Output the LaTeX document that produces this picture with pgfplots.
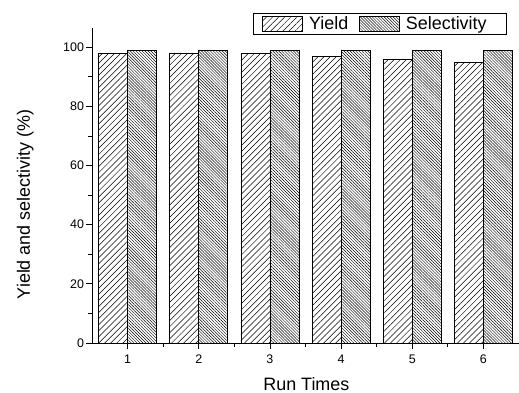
\documentclass[border=0pt]{standalone}
\usepackage{pgfplots}
\pgfplotsset{compat=1.18}
\usepackage{fontspec}
\setmainfont{Liberation Sans}
\usetikzlibrary{patterns.meta}
\begin{document}
\begin{tikzpicture}
\begin{axis}[
  scale only axis, width=427bp, height=315bp,
  ybar=0pt, bar width=29bp,
  xmin=0.5, xmax=6.5, ymin=0, ymax=106.5,
  axis x line*=bottom, axis y line*=left,
  axis line style={line width=0.7pt},
  xtick={1,2,3,4,5,6}, minor xtick={1.5,2.5,3.5,4.5,5.5},
  ytick={0,20,40,60,80,100}, minor ytick={10,30,50,70,90},
  tick align=outside, major tick length=6bp, minor tick length=3.5bp,
  tick style={black, line width=0.7pt},
  ticklabel style={font=\fontsize{12.5}{14}\selectfont},
  yticklabel style={xshift=1.5bp},
  xticklabel style={yshift=-2.5bp},
  /pgf/number format/assume math mode=true,
  xlabel={Run Times}, ylabel={Yield and selectivity (\%)},
  label style={font=\fontsize{18}{21}\selectfont},
  xlabel style={at={(axis description cs:0.502,0)}, anchor=base, yshift=-47bp},
  ylabel style={at={([xshift=-62bp]axis description cs:0,0.44)}, anchor=base},
  legend columns=2,
  legend style={at={(0.377,1.0476)}, anchor=north west, draw=black, line width=0.7pt,
    font=\fontsize{18}{21}\selectfont, inner xsep=9bp, inner ysep=2.5bp,
    nodes={inner sep=0pt, anchor=west},
    /tikz/every odd column/.style={column sep=6bp},
    /tikz/every even column/.style={column sep=11bp}},
  legend image code/.code={\draw[#1, line width=0.7pt] (0bp,-7.5bp) rectangle (40bp,7.5bp);},
]
\addplot[draw=black, line width=0.7pt, pattern={Lines[angle=45,distance=4.3bp,line width=0.5bp]}]
  coordinates {(1,98) (2,98) (3,98) (4,97) (5,96) (6,95)};
\addplot[draw=black, line width=0.7pt, pattern={Lines[angle=-45,distance=2.1bp,line width=0.45bp]}]
  coordinates {(1,99) (2,99) (3,99) (4,99) (5,99) (6,99)};
\legend{Yield, Selectivity\rule{11bp}{0pt}}
\end{axis}
\pgfresetboundingbox
\path[use as bounding box] (-92bp,-50bp) rectangle (427bp,343bp);
\end{tikzpicture}
\end{document}
